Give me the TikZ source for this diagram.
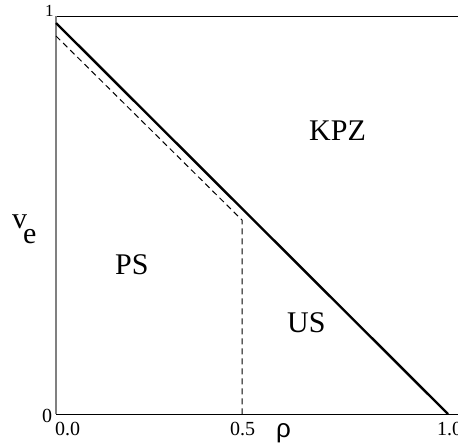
\documentclass[tikz,border=0pt]{standalone}
\usepackage{fontspec}
\setmainfont{Liberation Serif}
\newfontfamily\grk{Liberation Sans}
\begin{document}
\begin{tikzpicture}[x=1pt,y=-1pt,
  lbl/.style={inner sep=0pt,anchor=base west,font=\fontsize{30}{36}\selectfont},
  tick/.style={inner sep=0pt,anchor=base west,font=\fontsize{20}{24}\selectfont},
  boundary/.style={line width=2.4pt},
  crossover/.style={line width=1pt,black,dash pattern=on 6pt off 4pt}]
\useasboundingbox (0,0) rectangle (458,445);
% frame
\coordinate (TL) at (56,16);
\coordinate (TR) at (458,16);
\coordinate (BL) at (56,414);
\coordinate (BR) at (458,414);
\draw[line width=0.9pt] (TL) -- (TR);
\draw[line width=0.9pt] (BL) -- (BR);
\draw[line width=1.4pt,gray] (TL) -- (BL);
% thick boundary
\coordinate (A) at (56,23);
\coordinate (B) at (448,414);
\draw[boundary] (A) -- (B);
% dashed boundary
\coordinate (C) at (56,36);
\coordinate (D) at (242,220);
\coordinate (E) at (242,414);
\draw[crossover] (C) -- (D) -- (E);
% tick labels
\node[tick,font=\fontsize{17}{20}\selectfont] (y1) at (45,16) {1};
\node[tick] (y0) at (42,422) {0};
\node[tick] (x0) at (55,435) {0.0};
\node[tick] (x05) at (230,435) {0.5};
\node[tick] (x1) at (437,435) {1.0};
% axis labels
\node[lbl] (ve) at (12,228) {v};
\node[lbl] (vesub) at (23,243) {e};
\node[inner sep=0pt,anchor=base west,font=\grk\fontsize{26}{30}\selectfont] (rho) at (276,437) {ρ};
% regions
\node[lbl] (kpz) at (309,140) {KPZ};
\node[lbl] (ps) at (115,274) {PS};
\node[lbl] (us) at (287,332) {US};
\end{tikzpicture}
\end{document}
